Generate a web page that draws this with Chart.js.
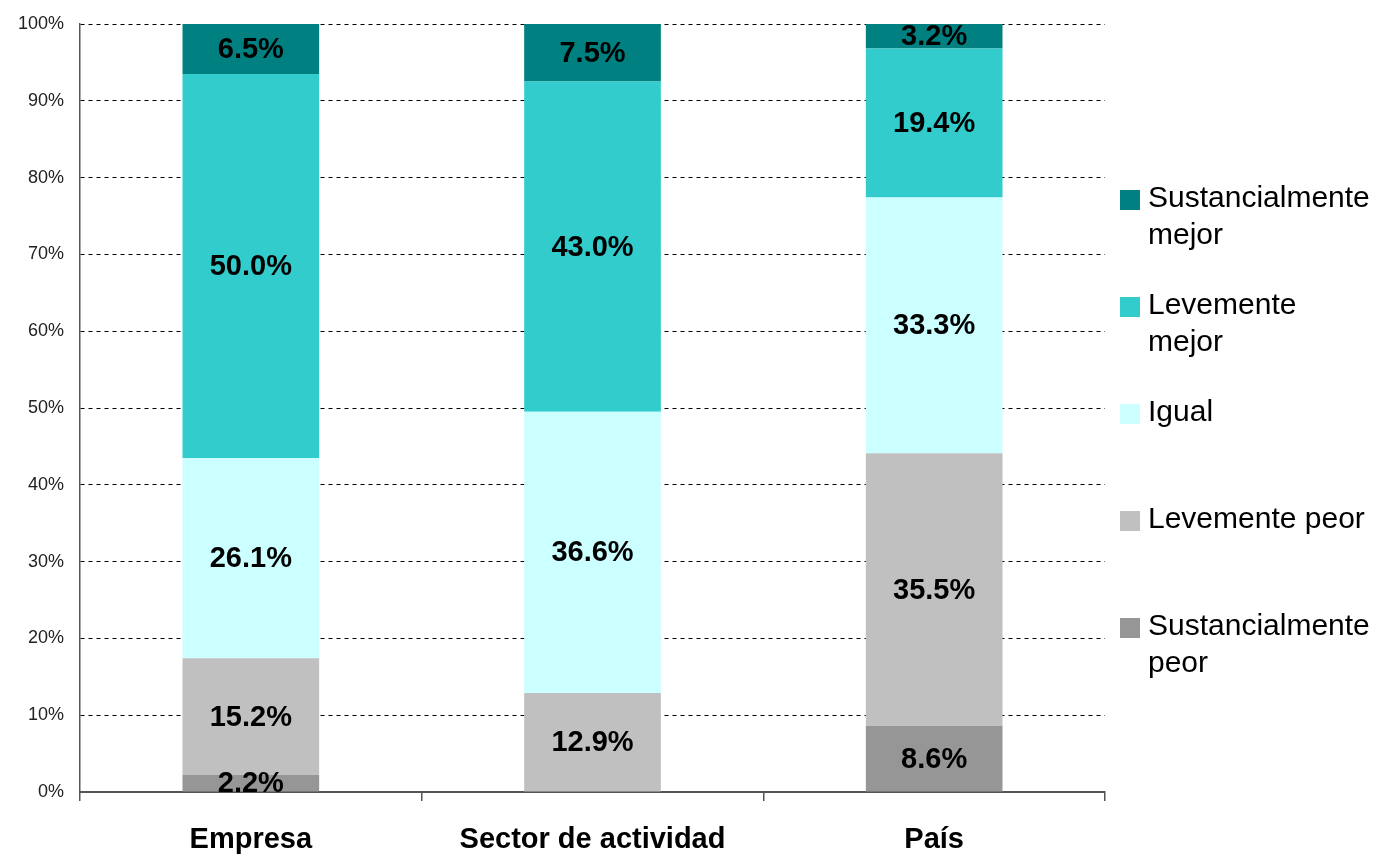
<!DOCTYPE html>
<html>
<head>
<meta charset="utf-8">
<script src="https://cdn.jsdelivr.net/npm/chart.js@4.4.0/dist/chart.umd.min.js"></script>
<style>
  html, body { margin: 0; padding: 0; background: #fff; }
  #wrap { width: 1378px; height: 855px; position: relative; }
</style>
</head>
<body>
<div id="wrap"><canvas id="stackChart"></canvas></div>
<script>
// === Data ===
const categories = ["Empresa", "Sector de actividad", "País"];

const sustPeor = [2.2, 0, 8.6];
const levPeor = [15.2, 12.9, 35.5];
const igual = [26.1, 36.6, 33.3];
const levMejor = [50.0, 43.0, 19.4];
const sustMejor = [6.5, 7.5, 3.2];

const seriesNames = ["Sustancialmente peor", "Levemente peor", "Igual", "Levemente mejor", "Sustancialmente mejor"];
const seriesColors = ["#969696", "#c0c0c0", "#ccffff", "#33cccc", "#008080"];

const yTicks = [0, 10, 20, 30, 40, 50, 60, 70, 80, 90, 100];

const FONT = "'Liberation Sans', Arial, sans-serif";

// === Plugins ===

// value labels centered in every segment
const segmentLabels = {
  id: "segmentLabels",
  afterDatasetsDraw(chart) {
    const ctx = chart.ctx;
    ctx.save();
    ctx.font = "bold 29px " + FONT;
    ctx.fillStyle = "#000";
    ctx.textAlign = "center";
    ctx.textBaseline = "middle";
    chart.data.datasets.forEach((ds, i) => {
      const meta = chart.getDatasetMeta(i);
      meta.data.forEach((bar, j) => {
        const v = ds.data[j];
        if (!v) return;
        const cy = (bar.y + bar.base) / 2;
        ctx.fillText(v.toFixed(1) + "%", bar.x, cy + 1);
      });
    });
    ctx.restore();
  }
};

// legend on the right, top item = last series, wrapped text
const sideLegend = {
  id: "sideLegend",
  afterDraw(chart) {
    const ctx = chart.ctx;
    const textX = 1148;
    const maxW = 226;
    const firstY = 197;
    const step = 107;
    const lineH = 37;
    ctx.save();
    ctx.font = "30px " + FONT;
    ctx.textBaseline = "middle";
    ctx.textAlign = "left";
    const sets = chart.data.datasets.slice().reverse();
    sets.forEach((ds, k) => {
      const y = firstY + k * step;
      ctx.fillStyle = ds.backgroundColor;
      ctx.fillRect(1120, y - 7, 20, 20);

      // word wrap
      const words = ds.label.split(" ");
      const lines = [];
      let cur = "";
      words.forEach(w => {
        const test = cur ? cur + " " + w : w;
        if (ctx.measureText(test).width > maxW && cur) {
          lines.push(cur);
          cur = w;
        } else {
          cur = test;
        }
      });
      lines.push(cur);

      ctx.fillStyle = "#000";
      lines.forEach((ln, n) => ctx.fillText(ln, textX, y + 2 + n * lineH));
    });
    ctx.restore();
  }
};

// === Chart ===

function renderChart() {
  const ctx = document.getElementById("stackChart");
  const values = [sustPeor, levPeor, igual, levMejor, sustMejor];

  return new Chart(ctx, {
    type: "bar",
    data: {
      labels: categories,
      datasets: values.map((arr, i) => ({
        label: seriesNames[i],
        data: arr,
        backgroundColor: seriesColors[i],
        borderWidth: 0,
        barPercentage: 0.4,
        categoryPercentage: 1
      }))
    },
    options: {
      responsive: true,
      maintainAspectRatio: false,
      animation: false,
      layout: { padding: { top: 24, right: 273, left: 0, bottom: 0 } },
      plugins: {
        legend: { display: false },
        tooltip: { enabled: false }
      },
      scales: {
        x: {
          stacked: true,
          afterFit: (s) => {
            s.height = 63;
            s.paddingLeft = 0;
            s.paddingRight = 0;
          },
          grid: {
            display: true,
            offset: true,
            drawOnChartArea: false,
            drawTicks: true,
            tickLength: 9,
            color: "#555",
            lineWidth: 1.5
          },
          border: { display: true, color: "#555", width: 2 },
          ticks: {
            padding: 22,
            color: "#000",
            font: { family: FONT, size: 29, weight: "bold" }
          }
        },
        y: {
          stacked: true,
          min: 0,
          max: 100,
          afterFit: (s) => {
            s.width = 80;
            s.paddingTop = 0;
            s.paddingBottom = 0;
          },
          afterBuildTicks: (s) => { s.ticks = yTicks.map(v => ({ value: v })); },
          grid: {
            drawTicks: false,
            color: "#000",
            lineWidth: 1
          },
          border: { display: true, color: "#555", width: 1.5, dash: [4, 4] },
          ticks: {
            padding: 16,
            color: "#222",
            font: { family: FONT, size: 18 },
            callback: (v) => v + "%"
          }
        }
      }
    },
    plugins: [segmentLabels, sideLegend]
  });
}

document.addEventListener("DOMContentLoaded", () => {
  renderChart();
});
</script>
</body>
</html>
